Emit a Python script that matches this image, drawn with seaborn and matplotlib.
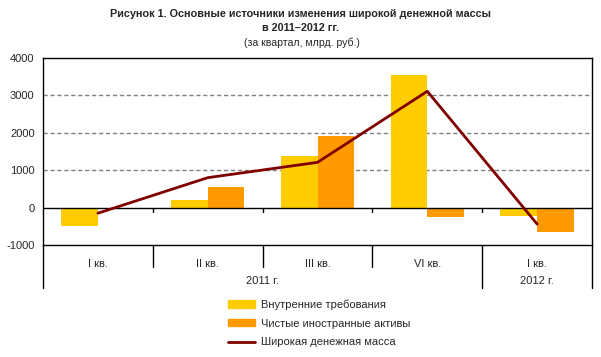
import numpy as np
import pandas as pd
import matplotlib
matplotlib.use("Agg")
import matplotlib.pyplot as plt
import seaborn as sns
from matplotlib.patches import Patch
from matplotlib.lines import Line2D

# DATA (млрд. руб., за квартал)
quarters = ["I кв.", "II кв.", "III кв.", "VI кв.", "I кв."]
years = ["2011 г.", "2012 г."]
domestic = [-500, 210, 1390, 3550, -230]     # Внутренние требования
foreign = [-40, 560, 1920, -260, -660]       # Чистые иностранные активы
broad_money = [-150, 800, 1210, 3110, -440]  # Широкая денежная масса

names = ["Внутренние требования", "Чистые иностранные активы", "Широкая денежная масса"]
colors = ["#FFCC00", "#FF9900", "#800000"]

keys = [f"{q} {i}" for i, q in enumerate(quarters)]
df = pd.DataFrame({
    "key": keys * 2,
    "value": domestic + foreign,
    "series": [names[0]] * 5 + [names[1]] * 5,
})

sns.set_style("white")
plt.rcParams["font.family"] = ["Liberation Sans", "DejaVu Sans"]
plt.rcParams["axes.unicode_minus"] = False

fig = plt.figure(figsize=(6.01, 3.57), dpi=100)
ax = fig.add_axes([43 / 601, (357 - 245) / 357, (592 - 43) / 601, (245 - 58) / 357])

sns.barplot(data=df, x="key", y="value", hue="series", order=keys,
            hue_order=names[:2], palette=colors[:2], width=0.67,
            saturation=1, linewidth=0, ax=ax, legend=False)
sns.lineplot(x=np.arange(len(keys)), y=broad_money, color=colors[2],
             linewidth=2, ax=ax, legend=False)

ax.set_xlim(-0.5, 4.5)
ax.set_ylim(-1000, 4000)
ax.set_xlabel("")
ax.set_ylabel("")

# dashed grid
for y in [1000, 2000, 3000]:
    ax.axhline(y, color="#808080", linestyle=(0, (3, 2)), linewidth=1, zorder=0)
ax.axhline(0, color="black", linewidth=1, zorder=1)

ax.set_yticks([-1000, 0, 1000, 2000, 3000, 4000])
ax.tick_params(axis="y", direction="out", length=4, width=1, labelsize=8, pad=2, color="black")
ax.set_xticks(range(len(keys)))
ax.set_xticklabels(quarters, fontsize=8)
ax.tick_params(axis="x", length=0, pad=10)

for s in ax.spines.values():
    s.set_visible(True)
    s.set_color("black")
    s.set_linewidth(1)

# category / year separators under the axis
ax_h = 245 - 58
low = -(288 - 245) / ax_h
mid = -(267 - 245) / ax_h
tr = ax.get_xaxis_transform()
ax.plot([-0.5, -0.5], [0, low], transform=tr, color="black", lw=1, clip_on=False)
ax.plot([4.5, 4.5], [0, low], transform=tr, color="black", lw=1, clip_on=False)
for xb in [0.5, 1.5, 2.5, 3.5]:
    ax.plot([xb, xb], [0, low if xb == 3.5 else mid], transform=tr,
            color="black", lw=1, clip_on=False)
    ax.plot([xb, xb], [0, -110], color="black", lw=1)

ax.text(1.5, -(281 - 245) / ax_h, years[0], transform=tr, ha="center", va="center", fontsize=8)
ax.text(4.0, -(281 - 245) / ax_h, years[1], transform=tr, ha="center", va="center", fontsize=8)

fig.text(300 / 601, 1 - 14 / 357,
         "Рисунок 1. Основные источники изменения широкой денежной массы",
         ha="center", va="center", fontsize=7.8, fontweight="bold")
fig.text(300 / 601, 1 - 28 / 357, "в 2011–2012 гг.",
         ha="center", va="center", fontsize=7.8, fontweight="bold")
fig.text(302 / 601, 1 - 43 / 357, "(за квартал, млрд. руб.)",
         ha="center", va="center", fontsize=7.6)

handles = [Patch(color=colors[0]), Patch(color=colors[1]),
           Line2D([0], [0], color=colors[2], lw=2)]
fig.legend(handles, names, loc="upper left", bbox_to_anchor=(224 / 601, 1 - 295 / 357),
           frameon=False, fontsize=8, handlelength=2.4, handleheight=0.6,
           handletextpad=0.5, labelspacing=0.78, borderaxespad=0)

fig.savefig("out.png", dpi=100)
